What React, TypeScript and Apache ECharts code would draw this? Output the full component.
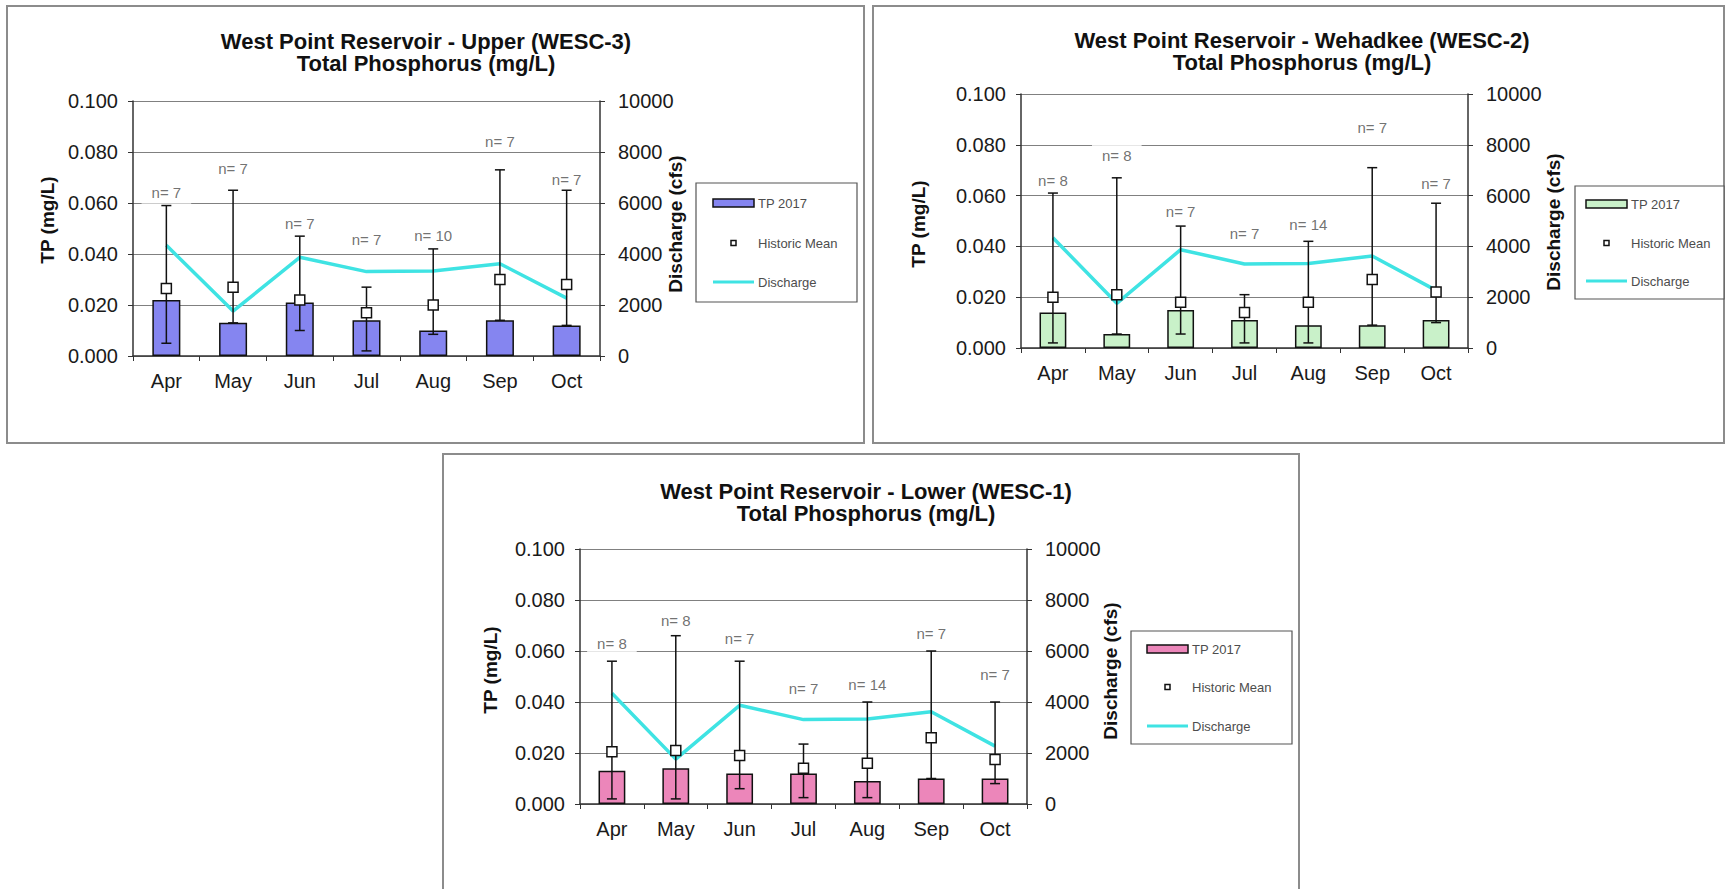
import React, { useEffect, useRef } from 'react';
import * as echarts from 'echarts';

const months = ['Apr', 'May', 'Jun', 'Jul', 'Aug', 'Sep', 'Oct'];
const discharge = [4340, 1760, 3870, 3310, 3330, 3620, 2270];

// West Point Reservoir - Upper (WESC-3)
const upperTP = [0.022, 0.013, 0.021, 0.014, 0.010, 0.014, 0.012];
const upperMean = [0.0265, 0.027, 0.022, 0.017, 0.020, 0.030, 0.028];
const upperMax = [0.059, 0.065, 0.047, 0.027, 0.042, 0.073, 0.065];
const upperMin = [0.005, 0.013, 0.010, 0.002, 0.0085, 0.014, 0.012];
const upperN = [7, 7, 7, 7, 10, 7, 7];
const upperNY = [0.064, 0.0736, 0.052, 0.0458, 0.0472, 0.0843, 0.0694];

// West Point Reservoir - Wehadkee (WESC-2)
const wehadkeeTP = [0.014, 0.0055, 0.015, 0.011, 0.009, 0.009, 0.011];
const wehadkeeMean = [0.020, 0.021, 0.018, 0.014, 0.018, 0.027, 0.022];
const wehadkeeMax = [0.061, 0.067, 0.048, 0.021, 0.042, 0.071, 0.057];
const wehadkeeMin = [0.002, 0.0055, 0.0055, 0.002, 0.002, 0.009, 0.010];
const wehadkeeN = [8, 8, 7, 7, 14, 7, 7];
const wehadkeeNY = [0.0659, 0.0756, 0.0537, 0.045, 0.0485, 0.0868, 0.0646];

// West Point Reservoir - Lower (WESC-1)
const lowerTP = [0.013, 0.014, 0.012, 0.012, 0.009, 0.010, 0.010];
const lowerMean = [0.0205, 0.021, 0.019, 0.014, 0.016, 0.026, 0.0175];
const lowerMax = [0.056, 0.066, 0.056, 0.0235, 0.040, 0.060, 0.040];
const lowerMin = [0.002, 0.002, 0.006, 0.0025, 0.0025, 0.010, 0.008];
const lowerN = [8, 8, 7, 7, 14, 7, 7];
const lowerNY = [0.063, 0.0719, 0.065, 0.0451, 0.0467, 0.0669, 0.0506];

const FONT = 'Liberation Sans, Arial, sans-serif';

const panels = [
  { title: 'West Point Reservoir - Upper (WESC-3)', tp: upperTP, mean: upperMean, hi: upperMax, lo: upperMin, n: upperN, nY: upperNY, color: '#8585f0' },
  { title: 'West Point Reservoir - Wehadkee (WESC-2)', tp: wehadkeeTP, mean: wehadkeeMean, hi: wehadkeeMax, lo: wehadkeeMin, n: wehadkeeN, nY: wehadkeeNY, color: '#c9f1c9' },
  { title: 'West Point Reservoir - Lower (WESC-1)', tp: lowerTP, mean: lowerMean, hi: lowerMax, lo: lowerMin, n: lowerN, nY: lowerNY, color: '#ec86ba' },
];

const layouts = [
  { grid: { left: 133, top: 101, width: 467, height: 255 }, box: [7, 6, 857, 437], titleX: 426, titleY: 41,
    tpName: [47, 220], qName: [675, 224], legend: { x: 696, y: 183, w: 161, h: 119, sw: 713, tx: 758, y1: 203, y2: 243, y3: 282 } },
  { grid: { left: 1021, top: 94, width: 447, height: 254 }, box: [873, 6, 851, 437], titleX: 1302, titleY: 40,
    tpName: [918, 224], qName: [1553, 222], legend: { x: 1575, y: 186, w: 149, h: 113, sw: 1586, tx: 1631, y1: 204, y2: 243, y3: 281 } },
  { grid: { left: 580, top: 549, width: 447, height: 255 }, box: [443, 454, 856, 445], titleX: 866, titleY: 491,
    tpName: [490, 670], qName: [1110, 671], legend: { x: 1131, y: 631, w: 161, h: 113, sw: 1147, tx: 1192, y1: 649, y2: 687, y3: 726 } },
];

const CYAN = '#3fe3e3';
const AXIS = '#333';

function errorRender(params: any, api: any) {
  const x = api.value(0);
  const pHi = api.coord([x, api.value(2)]);
  const pLo = api.coord([x, api.value(1)]);
  const half = 5;
  const st = { stroke: '#111', lineWidth: 1.5 };
  return {
    type: 'group',
    children: [
      { type: 'line', shape: { x1: pHi[0], y1: pHi[1], x2: pLo[0], y2: pLo[1] }, style: st },
      { type: 'line', shape: { x1: pHi[0] - half, y1: pHi[1], x2: pHi[0] + half, y2: pHi[1] }, style: st },
      { type: 'line', shape: { x1: pLo[0] - half, y1: pLo[1], x2: pLo[0] + half, y2: pLo[1] }, style: st },
    ],
  };
}

function buildOption() {
  const grid: any[] = [];
  const xAxis: any[] = [];
  const yAxis: any[] = [];
  const series: any[] = [];
  const graphic: any[] = [];

  panels.forEach((p, i) => {
    const L = layouts[i];
    grid.push({ ...L.grid, containLabel: false });
    xAxis.push({
      type: 'category', gridIndex: i, data: months,
      axisLine: { show: true, lineStyle: { color: AXIS, width: 1.5 } },
      axisTick: { show: true, length: 5, interval: 0, lineStyle: { color: AXIS } },
      axisLabel: { fontSize: 20, color: '#1a1a1a', margin: 15, fontFamily: FONT, interval: 0 },
      splitLine: { show: false },
    });
    yAxis.push({
      type: 'value', gridIndex: i, min: 0, max: 0.1, interval: 0.02, position: 'left',
      axisLine: { show: true, lineStyle: { color: AXIS, width: 1.5 } },
      axisTick: { show: true, length: 5, lineStyle: { color: AXIS } },
      axisLabel: { fontSize: 20, color: '#1a1a1a', margin: 15, fontFamily: FONT, formatter: (v: number) => v.toFixed(3) },
      splitLine: { show: true, lineStyle: { color: '#808080', width: 1 } },
    });
    yAxis.push({
      type: 'value', gridIndex: i, min: 0, max: 10000, interval: 2000, position: 'right',
      axisLine: { show: true, lineStyle: { color: AXIS, width: 1.5 } },
      axisTick: { show: true, length: 5, lineStyle: { color: AXIS } },
      axisLabel: { fontSize: 20, color: '#1a1a1a', margin: 18, fontFamily: FONT, formatter: (v: number) => String(v) },
      splitLine: { show: false },
    });

    series.push({
      type: 'bar', name: 'TP 2017', xAxisIndex: i, yAxisIndex: 2 * i, data: p.tp, barWidth: '42%',
      itemStyle: { color: p.color, borderColor: '#111', borderWidth: 1.5 }, z: 2,
    });
    series.push({
      type: 'line', name: 'Discharge', xAxisIndex: i, yAxisIndex: 2 * i + 1, data: discharge,
      symbol: 'none', lineStyle: { color: CYAN, width: 3.5 }, itemStyle: { color: CYAN }, z: 3,
    });
    series.push({
      type: 'custom', name: 'Range', xAxisIndex: i, yAxisIndex: 2 * i,
      data: months.map((_, k) => [k, p.lo[k], p.hi[k]]),
      encode: { x: 0, y: [1, 2] }, renderItem: errorRender, z: 4, silent: true,
    });
    series.push({
      type: 'scatter', name: 'Historic Mean', xAxisIndex: i, yAxisIndex: 2 * i, data: p.mean,
      symbol: 'rect', symbolSize: 10,
      itemStyle: { color: '#ffffff', borderColor: '#111', borderWidth: 1.5, opacity: 1 }, z: 5,
    });
    series.push({
      type: 'scatter', name: 'n', xAxisIndex: i, yAxisIndex: 2 * i,
      data: p.nY.map((y, k) => [k, y]), symbolSize: 1, silent: true,
      itemStyle: { color: 'rgba(0,0,0,0)' }, z: 1,
      label: {
        show: true, position: 'inside', formatter: (q: any) => 'n= ' + p.n[q.dataIndex],
        fontSize: 15, color: '#4d4d4d', fontFamily: FONT, backgroundColor: '#ffffff', padding: [3, 10], lineHeight: 16,
      },
    });

    const [bx, by, bw, bh] = L.box;
    graphic.push({ type: 'rect', shape: { x: bx, y: by, width: bw, height: bh }, style: { fill: 'none', stroke: '#8c8c8c', lineWidth: 2 }, z: -10 });
    graphic.push({ type: 'text', x: L.titleX, y: L.titleY, style: { text: p.title, font: `bold 22px ${FONT}`, fill: '#111', textAlign: 'center', textVerticalAlign: 'middle' } });
    graphic.push({ type: 'text', x: L.titleX, y: L.titleY + 22, style: { text: 'Total Phosphorus (mg/L)', font: `bold 22px ${FONT}`, fill: '#111', textAlign: 'center', textVerticalAlign: 'middle' } });
    graphic.push({ type: 'text', x: L.tpName[0], y: L.tpName[1], rotation: Math.PI / 2, style: { text: 'TP (mg/L)', font: `bold 19px ${FONT}`, fill: '#111', textAlign: 'center', textVerticalAlign: 'middle' } });
    graphic.push({ type: 'text', x: L.qName[0], y: L.qName[1], rotation: Math.PI / 2, style: { text: 'Discharge (cfs)', font: `bold 19px ${FONT}`, fill: '#111', textAlign: 'center', textVerticalAlign: 'middle' } });

    const g = L.legend;
    graphic.push({ type: 'rect', shape: { x: g.x, y: g.y, width: g.w, height: g.h }, style: { fill: '#fff', stroke: '#555', lineWidth: 1.2 } });
    graphic.push({ type: 'rect', shape: { x: g.sw, y: g.y1 - 4, width: 41, height: 8 }, style: { fill: p.color, stroke: '#111', lineWidth: 1.5 } });
    graphic.push({ type: 'text', x: g.tx, y: g.y1, style: { text: 'TP 2017', font: `13px ${FONT}`, fill: '#4d4d4d', textVerticalAlign: 'middle' } });
    graphic.push({ type: 'rect', shape: { x: g.sw + 18, y: g.y2 - 2.5, width: 5, height: 5 }, style: { fill: '#fff', stroke: '#111', lineWidth: 1.5 } });
    graphic.push({ type: 'text', x: g.tx, y: g.y2, style: { text: 'Historic Mean', font: `13px ${FONT}`, fill: '#4d4d4d', textVerticalAlign: 'middle' } });
    graphic.push({ type: 'line', shape: { x1: g.sw, y1: g.y3, x2: g.sw + 41, y2: g.y3 }, style: { stroke: CYAN, lineWidth: 3 } });
    graphic.push({ type: 'text', x: g.tx, y: g.y3, style: { text: 'Discharge', font: `13px ${FONT}`, fill: '#4d4d4d', textVerticalAlign: 'middle' } });
  });

  return {
    animation: false,
    backgroundColor: '#ffffff',
    textStyle: { fontFamily: FONT },
    grid, xAxis, yAxis, series, graphic,
  };
}

export default function App() {
  const ref = useRef<HTMLDivElement>(null);
  useEffect(() => {
    if (!ref.current) return;
    const chart = echarts.init(ref.current, null, { renderer: 'svg' });
    chart.setOption(buildOption() as any);
    return () => chart.dispose();
  }, []);
  return <div ref={ref} style={{ position: 'absolute', left: 0, top: 0, width: 1726, height: 889, background: '#fff' }} />;
}
